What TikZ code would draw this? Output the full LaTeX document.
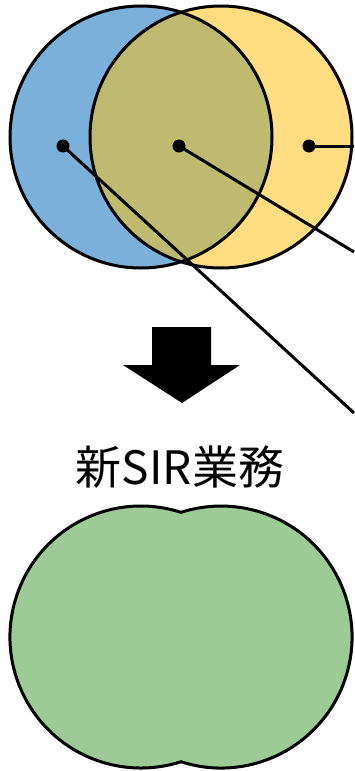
\documentclass[tikz,border=0pt]{standalone}
\usepackage{fontspec}
\newfontfamily\cjk{Noto Sans CJK JP}
\usepackage{tikz}
\usetikzlibrary{positioning}

\definecolor{setblue}{RGB}{123,176,219}
\definecolor{setyellow}{RGB}{255,221,128}
\definecolor{setboth}{RGB}{190,187,112}
\definecolor{setnew}{RGB}{156,203,150}

\begin{document}
\begin{tikzpicture}[x=1pt,y=-1pt,
    ring/.style={line width=3pt},
    dot/.style={circle,fill=black,inner sep=0pt,minimum size=13pt},
    leader/.style={line width=3pt}]
  \useasboundingbox (0,0) rectangle (354,771);
  % two sets
  \fill[setblue] (141,137) circle (131);
  \fill[setyellow] (221,137) circle (131);
  \begin{scope}
    \clip (141,137) circle (131);
    \fill[setboth] (221,137) circle (131);
  \end{scope}
  \draw[ring] (141,137) circle (131);
  \draw[ring] (221,137) circle (131);
  % points and leader lines
  \node[dot] (p_a) at (63,146) {};
  \node[dot] (p_b) at (179,146) {};
  \node[dot] (p_c) at (309,146) {};
  \coordinate (e_a) at (354,413);
  \coordinate (e_b) at (354,252);
  \coordinate (e_c) at (354,146);
  \draw[leader] (p_a.center) -- (e_a);
  \draw[leader] (p_b.center) -- (e_b);
  \draw[leader] (p_c.center) -- (e_c);
  % arrow
  \fill (152,327) -- (211,327) -- (211,365) -- (240,365) -- (182,403)
        -- (123,365) -- (152,365) -- cycle;
  \node (title) at (180,467) {\cjk\fontsize{46}{52}\selectfont 新SIR業務};
  % merged set
  \filldraw[setnew, draw=black, ring]
    (181,512.3) arc[start angle=-72.2, end angle=-287.8, radius=131]
    arc[start angle=107.8, end angle=-107.8, radius=131] -- cycle;
\end{tikzpicture}
\end{document}
